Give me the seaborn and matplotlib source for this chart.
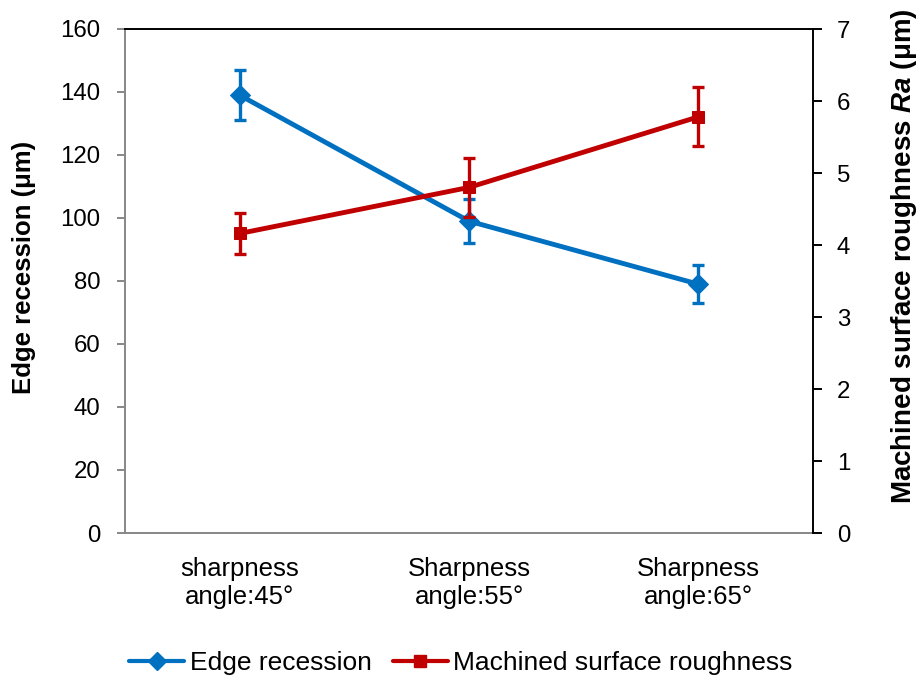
import matplotlib
matplotlib.use("Agg")
import matplotlib.pyplot as plt
import seaborn as sns
import pandas as pd
import numpy as np
from matplotlib.lines import Line2D

categories = ["sharpness\nangle:45°", "Sharpness\nangle:55°", "Sharpness\nangle:65°"]
edge_recession = [139, 99, 79]
edge_err = [8, 7, 6]
roughness = [4.16, 4.80, 5.78]
rough_err = [0.28, 0.41, 0.41]
left_ticks = [0, 20, 40, 60, 80, 100, 120, 140, 160]
right_ticks = [0, 1, 2, 3, 4, 5, 6, 7]

sns.set_style("white")
plt.rcParams["font.family"] = ["Liberation Sans", "DejaVu Sans"]
plt.rcParams["mathtext.fontset"] = "custom"
plt.rcParams["mathtext.it"] = "Liberation Sans:bold:italic"
plt.rcParams["mathtext.rm"] = "Liberation Sans:bold"
plt.rcParams["text.color"] = "black"
plt.rcParams["xtick.labelcolor"] = "black"
plt.rcParams["ytick.labelcolor"] = "black"

BLUE = "#0070C0"
RED = "#C00000"
GREY = "#878787"

fig = plt.figure(figsize=(9.18, 6.81), dpi=100)
ax = fig.add_axes([125/918, 1-533/681, (813-125)/918, (533-29)/681])
ax2 = ax.twinx()

x = np.arange(len(categories))
df = pd.DataFrame({"x": x, "edge": edge_recession, "rough": roughness})

ax.errorbar(x, edge_recession, yerr=edge_err, fmt="none", ecolor=BLUE,
            elinewidth=2.4, capsize=4.6, capthick=2.4, zorder=2)
sns.lineplot(data=df, x="x", y="edge", ax=ax, color=BLUE, linewidth=3.5,
             marker="D", markersize=10, markeredgecolor=BLUE, zorder=3)

ax2.errorbar(x, roughness, yerr=rough_err, fmt="none", ecolor=RED,
             elinewidth=2.4, capsize=4.6, capthick=2.4, zorder=2)
sns.lineplot(data=df, x="x", y="rough", ax=ax2, color=RED, linewidth=3.5,
             marker="s", markersize=8.5, markeredgecolor=RED, zorder=3)

ax.set_xlim(-0.5, 2.5)
ax.set_ylim(0, 160)
ax2.set_ylim(0, 7)
ax.set_xticks(x)
ax.set_xticklabels(categories, fontsize=18.5, linespacing=1.18)
ax.set_yticks(left_ticks)
ax.set_yticklabels([str(t) for t in left_ticks], fontsize=17.3)
ax2.set_yticks(right_ticks)
ax2.set_yticklabels([str(t) for t in right_ticks], fontsize=17.3)

ax.set_xlabel("")
ax.set_ylabel("")
ax2.set_ylabel("")
fig.text(24/918, 1-267/681, "Edge recession (μm)", rotation=90,
         ha="center", va="center", fontsize=18.5, fontweight="bold")
fig.text(904/918, 1-256/681, r"Machined surface roughness $Ra$ (μm)",
         rotation=90, ha="center", va="center", fontsize=20,
         fontweight="bold")

for a in (ax, ax2):
    for s in a.spines.values():
        s.set_visible(False)
ax.spines["left"].set_visible(True)
ax.spines["left"].set_color(GREY)
ax.spines["left"].set_linewidth(1.4)
ax.spines["bottom"].set_visible(True)
ax.spines["bottom"].set_color(GREY)
ax.spines["bottom"].set_linewidth(1.4)
ax2.spines["right"].set_visible(True)
ax2.spines["right"].set_color("black")
ax2.spines["right"].set_linewidth(1.4)
ax2.spines["top"].set_visible(True)
ax2.spines["top"].set_color("black")
ax2.spines["top"].set_linewidth(1.4)

ax.tick_params(axis="y", which="both", left=True, length=5.8, width=1.4,
               color=GREY, direction="out", pad=12)
ax.tick_params(axis="x", bottom=False, pad=14)
ax2.tick_params(axis="y", right=True, length=6.2, width=1.4, color="black",
                direction="out", pad=11)

handles = [
    Line2D([0], [0], color=BLUE, linewidth=3, marker="D", markersize=9),
    Line2D([0], [0], color=RED, linewidth=3, marker="s", markersize=8),
]
fig.legend(handles, ["Edge recession", "Machined surface roughness"],
           loc="center", bbox_to_anchor=(0.502, 1-663/681), ncol=2,
           frameon=False, fontsize=19, handlelength=2.1, handletextpad=0.2,
           columnspacing=0.8, borderpad=0, borderaxespad=0)

fig.savefig("out.png", dpi=100)
